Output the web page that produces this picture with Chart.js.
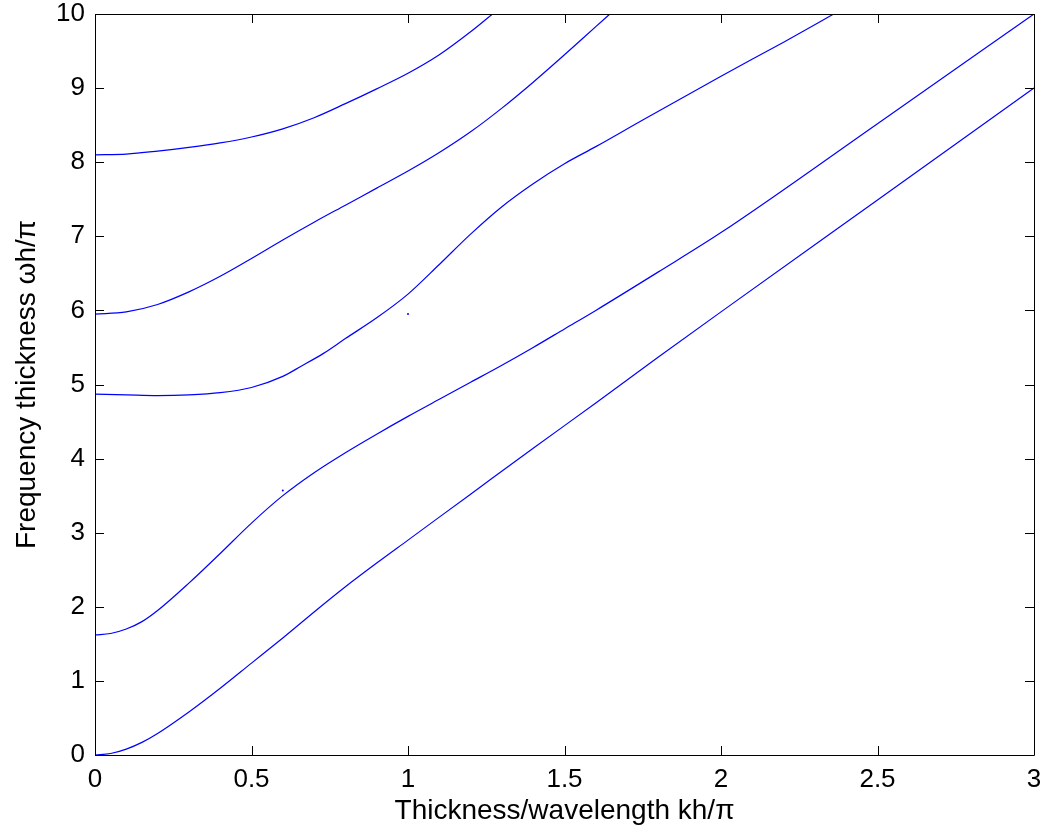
<!DOCTYPE html>
<html>
<head>
<meta charset="utf-8">
<script src="https://cdn.jsdelivr.net/npm/chart.js@4/dist/chart.umd.min.js"></script>
<style>
  html, body { margin: 0; padding: 0; background: #fff; }
</style>
</head>
<body>
<canvas id="dispChart" width="1049" height="833"></canvas>
<script>
// values (kh/pi, omega h/pi)
const mode1X = [0, 0.05, 0.1, 0.15, 0.2, 0.3, 0.4, 0.5, 0.6, 0.7, 0.8, 0.9, 1.0, 1.2, 1.4, 1.6, 1.8, 2.0, 2.5, 3.0];
const mode1Y = [0, 0.02, 0.08, 0.17, 0.29, 0.58, 0.9, 1.24, 1.58, 1.93, 2.27, 2.59, 2.9, 3.52, 4.14, 4.75, 5.37, 5.98, 7.49, 9.0];

const mode2X = [0, 0.05, 0.1, 0.15, 0.2, 0.3, 0.4, 0.5, 0.6, 0.7, 0.8, 0.9, 1.0, 1.1, 1.2, 1.3, 1.4, 1.5, 1.6, 1.8, 2.0, 2.5, 3.0];
const mode2Y = [1.62, 1.64, 1.7, 1.8, 1.95, 2.32, 2.72, 3.13, 3.5, 3.81, 4.08, 4.33, 4.57, 4.8, 5.03, 5.26, 5.5, 5.75, 6.0, 6.52, 7.05, 8.52, 10.0];

const mode3X = [0, 0.1, 0.2, 0.3, 0.4, 0.5, 0.6, 0.66, 0.73, 0.8, 0.9, 1.0, 1.1, 1.2, 1.3, 1.4, 1.5, 1.6, 1.75, 2.0, 2.2, 2.36];
const mode3Y = [4.87, 4.86, 4.85, 4.86, 4.89, 4.96, 5.11, 5.25, 5.42, 5.62, 5.9, 6.22, 6.62, 7.03, 7.4, 7.71, 7.98, 8.21, 8.57, 9.16, 9.62, 10.0];

const mode4X = [0, 0.1, 0.2, 0.3, 0.4, 0.5, 0.6, 0.7, 0.8, 0.9, 1.0, 1.1, 1.2, 1.3, 1.4, 1.5, 1.6, 1.645];
const mode4Y = [5.95, 5.98, 6.08, 6.25, 6.46, 6.7, 6.95, 7.19, 7.42, 7.65, 7.88, 8.13, 8.41, 8.73, 9.08, 9.45, 9.83, 10.0];

const mode5X = [0, 0.1, 0.2, 0.3, 0.4, 0.5, 0.6, 0.7, 0.8, 0.9, 1.0, 1.1, 1.2, 1.27];
const mode5Y = [8.1, 8.11, 8.15, 8.2, 8.26, 8.34, 8.45, 8.6, 8.79, 8.99, 9.2, 9.45, 9.76, 10.0];

// two stray points
const strayX = [0.6, 1.0];
const strayY = [3.57, 5.95];

const xTicks = [0, 0.5, 1, 1.5, 2, 2.5, 3];
const yTicks = [0, 1, 2, 3, 4, 5, 6, 7, 8, 9, 10];

const FONT = '"Liberation Sans", Arial, Helvetica, sans-serif';
const BLUE = 'rgb(0, 0, 255)';

function toPoints(xs, ys) {
  return xs.map((x, i) => ({ x: x, y: ys[i] }));
}

function modeSet(xs, ys) {
  return {
    data: toPoints(xs, ys),
    showLine: true,
    borderColor: BLUE,
    borderWidth: 1.2,
    pointRadius: 0,
    cubicInterpolationMode: 'monotone',
    fill: false
  };
}

// kill the label overflow padding so the plot box lands where it should
function noPad(scale) {
  scale.paddingTop = 0;
  scale.paddingBottom = 0;
  scale.paddingLeft = 0;
  scale.paddingRight = 0;
}

// matlab style box with inward ticks on every side
const boxPlugin = {
  id: 'boxPlugin',
  afterDraw(chart) {
    const { ctx, chartArea: a, scales } = chart;
    const len = 9;
    ctx.save();
    ctx.strokeStyle = '#000';
    ctx.lineWidth = 1;
    ctx.beginPath();
    ctx.rect(Math.round(a.left) + 0.5, Math.round(a.top) + 0.5,
             Math.round(a.right - a.left), Math.round(a.bottom - a.top));
    xTicks.forEach(v => {
      const px = Math.round(scales.x.getPixelForValue(v)) + 0.5;
      ctx.moveTo(px, a.bottom);
      ctx.lineTo(px, a.bottom - len);
      ctx.moveTo(px, a.top);
      ctx.lineTo(px, a.top + len);
    });
    yTicks.forEach(v => {
      const py = Math.round(scales.y.getPixelForValue(v)) + 0.5;
      ctx.moveTo(a.left, py);
      ctx.lineTo(a.left + len, py);
      ctx.moveTo(a.right, py);
      ctx.lineTo(a.right - len, py);
    });
    ctx.stroke();
    ctx.restore();
  }
};

const ctx = document.getElementById('dispChart').getContext('2d');
new Chart(ctx, {
  type: 'scatter',
  data: {
    datasets: [
      modeSet(mode1X, mode1Y),
      modeSet(mode2X, mode2Y),
      modeSet(mode3X, mode3Y),
      modeSet(mode4X, mode4Y),
      modeSet(mode5X, mode5Y),
      {
        data: toPoints(strayX, strayY),
        pointRadius: 1,
        pointBorderWidth: 0,
        backgroundColor: BLUE,
        borderColor: BLUE
      }
    ]
  },
  options: {
    responsive: false,
    animation: false,
    devicePixelRatio: 1,
    layout: { padding: { top: 14, right: 15, left: 0, bottom: 0 } },
    plugins: {
      legend: { display: false },
      tooltip: { enabled: false }
    },
    scales: {
      x: {
        type: 'linear',
        min: 0,
        max: 3,
        afterFit(scale) { scale.height = 78; noPad(scale); },
        afterBuildTicks(scale) { scale.ticks = xTicks.map(v => ({ value: v })); },
        ticks: {
          padding: 9,
          color: '#000',
          font: { family: FONT, size: 26 },
          maxRotation: 0,
          autoSkip: false,
          callback: v => String(v)
        },
        grid: { drawOnChartArea: false, drawTicks: false },
        border: { display: false },
        title: {
          display: true,
          text: 'Thickness/wavelength kh/\u03c0',
          color: '#000',
          font: { family: FONT, size: 28 },
          padding: { top: 0, bottom: 5 }
        }
      },
      y: {
        type: 'linear',
        min: 0,
        max: 10,
        afterFit(scale) { scale.width = 95; noPad(scale); },
        afterBuildTicks(scale) { scale.ticks = yTicks.map(v => ({ value: v })); },
        ticks: {
          padding: 10,
          color: '#000',
          font: { family: FONT, size: 26 },
          autoSkip: false,
          callback: v => String(v)
        },
        grid: { drawOnChartArea: false, drawTicks: false },
        border: { display: false },
        title: {
          display: true,
          text: 'Frequency thickness \u03c9h/\u03c0',
          color: '#000',
          font: { family: FONT, size: 28 },
          padding: { top: 10, bottom: 0 }
        }
      }
    }
  },
  plugins: [boxPlugin]
});
</script>
</body>
</html>
